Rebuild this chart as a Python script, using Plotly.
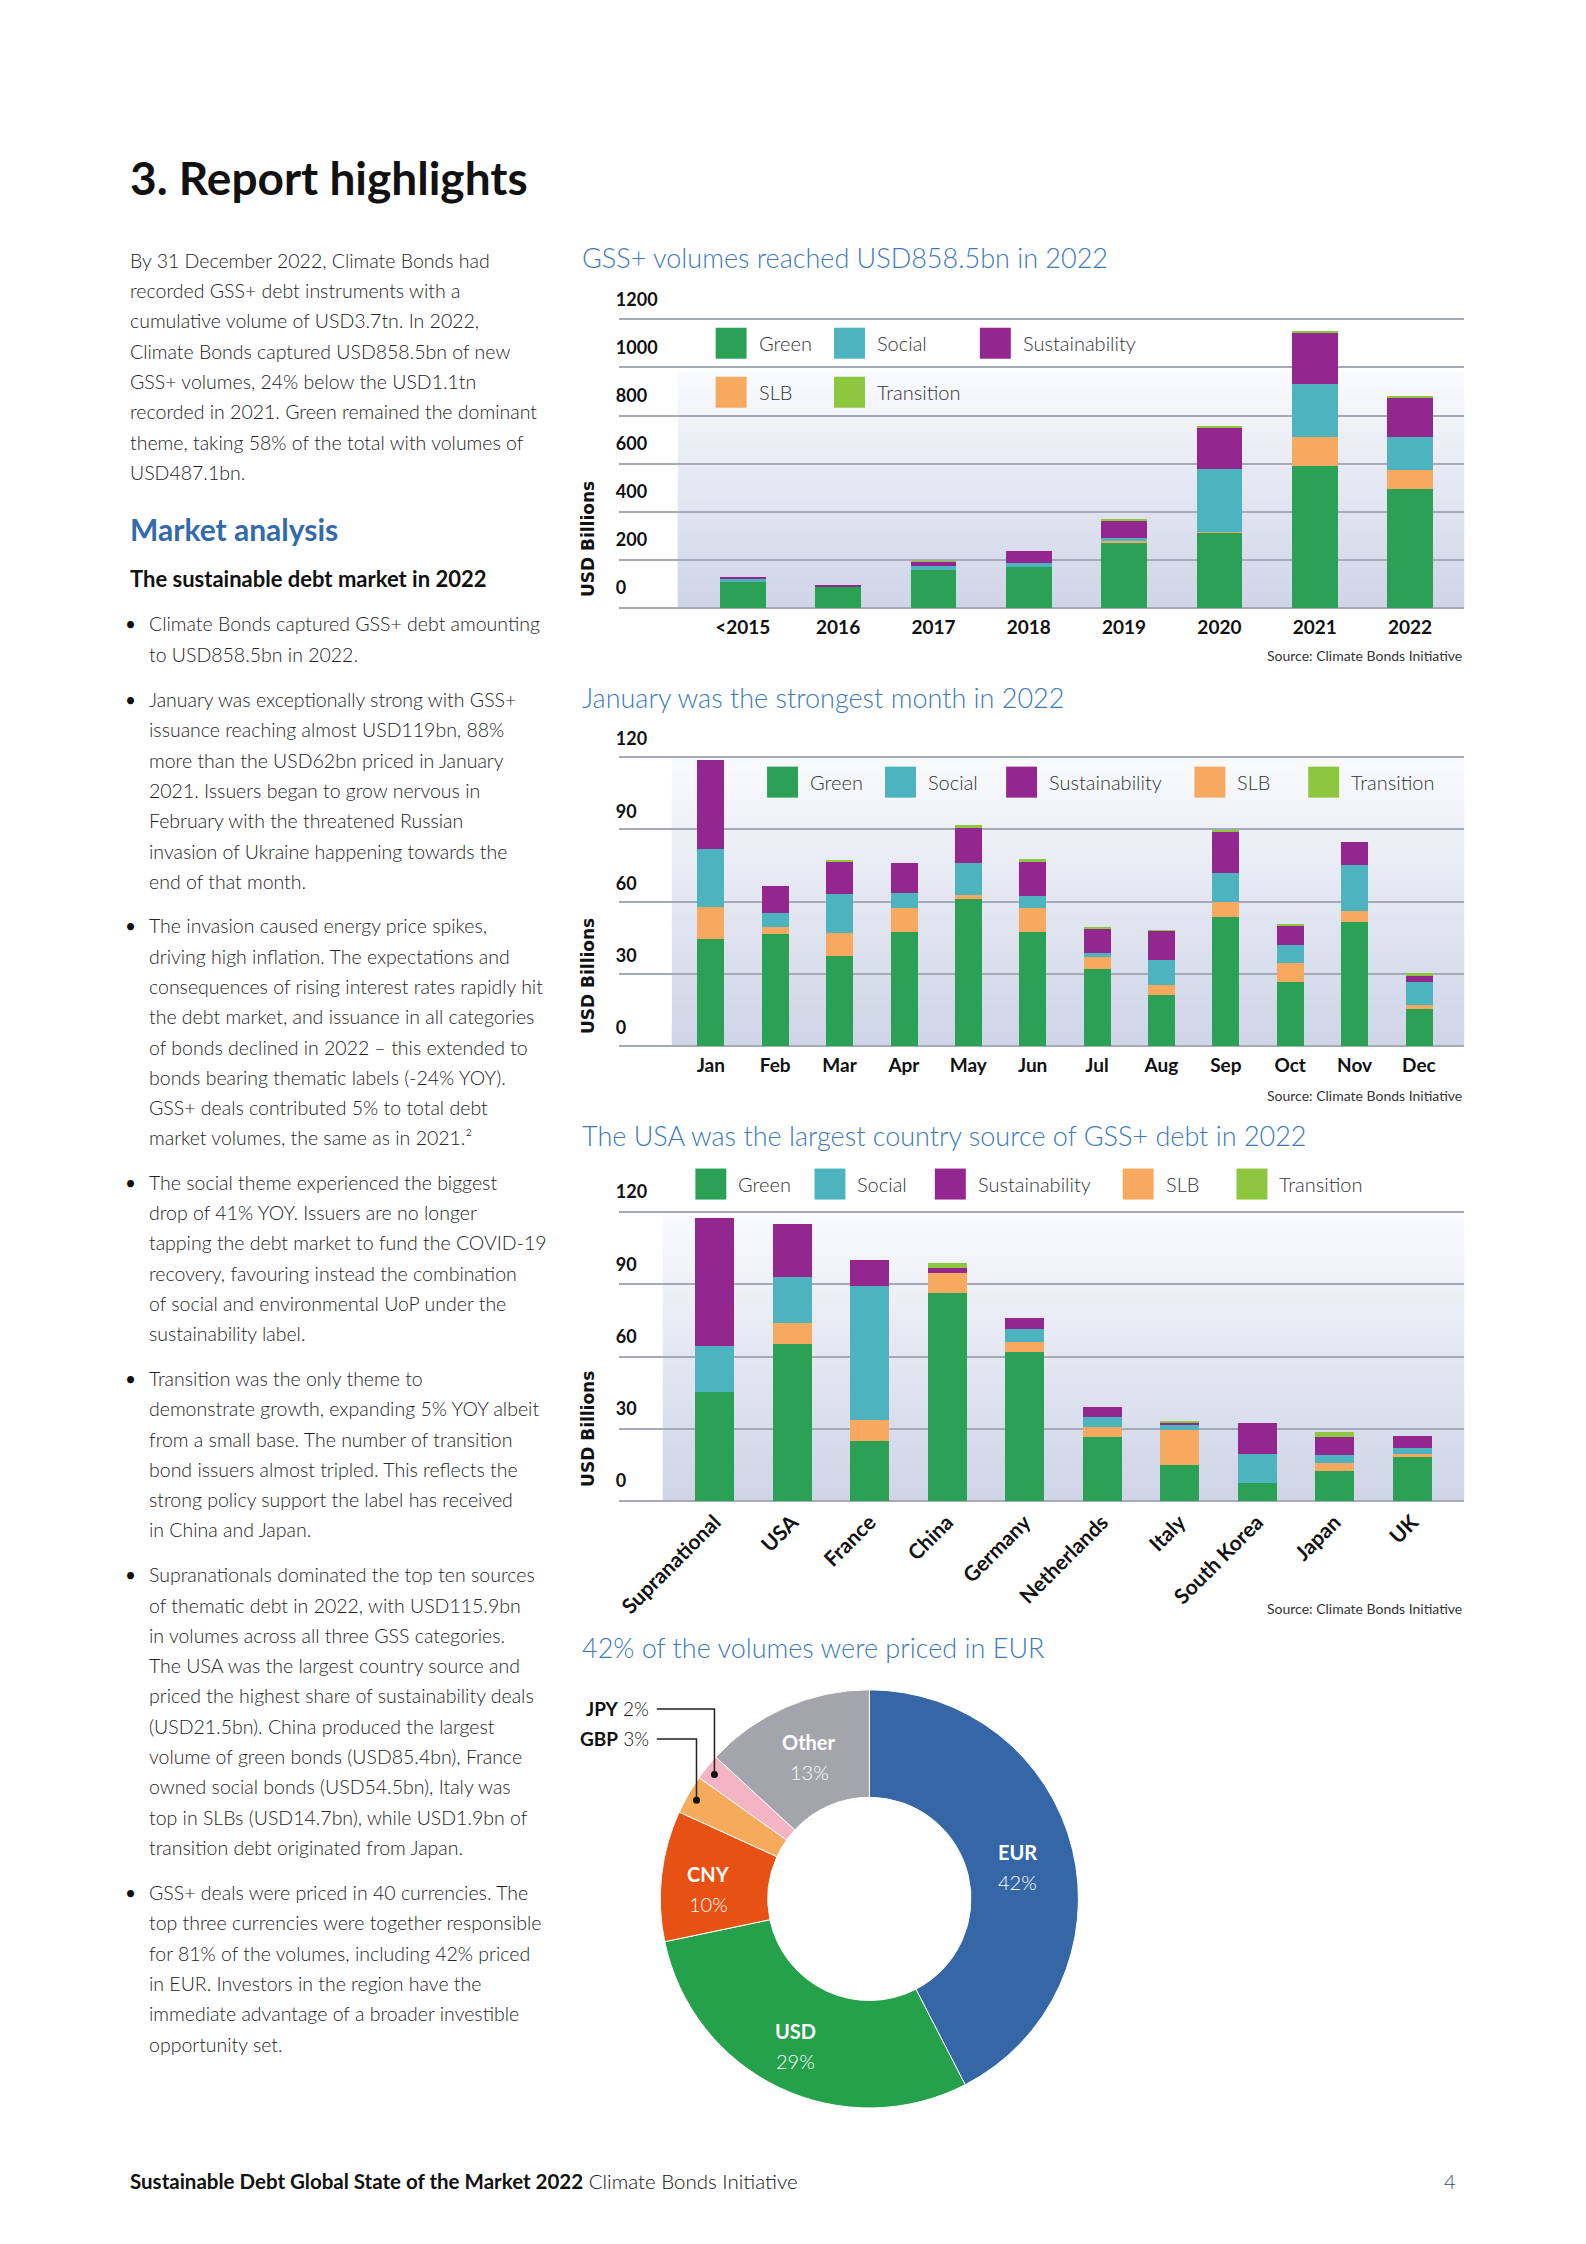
import math
import plotly.graph_objects as go

W, H = 1586, 2244
# measured placement correction of the rendered page
X_OFF, Y_OFF, Y_SCALE = 12, 39.7, 0.9864

# ---------------- data ----------------
stack_order = ["Green", "SLB", "Social", "Sustainability", "Transition"]
legend_order = ["Green", "Social", "Sustainability", "SLB", "Transition"]
theme_colors = {"Green": "#2aa155", "Social": "#4db3bf", "Sustainability": "#93278f",
                "SLB": "#f7a95f", "Transition": "#8dc63f"}

years = ["<2015", "2016", "2017", "2018", "2019", "2020", "2021", "2022"]
years_green = [110, 88, 159, 172, 272, 315, 592, 496]
years_slb = [0, 0, 0, 0, 8, 3, 120, 79]
years_social = [11, 2, 15, 17, 11, 258, 219, 137]
years_sustainability = [10, 7, 18, 48, 72, 175, 213, 161]
years_transition = [0, 0, 3, 0, 7, 7, 8, 8]
years_ticks = [0, 200, 400, 600, 800, 1000, 1200]

months = ["Jan", "Feb", "Mar", "Apr", "May", "Jun", "Jul", "Aug", "Sep", "Oct", "Nov", "Dec"]
months_green = [44.5, 46.5, 37.4, 47.4, 61.1, 47.4, 32.0, 21.2, 53.6, 26.6, 51.5, 15.4]
months_slb = [13.3, 2.9, 9.6, 9.9, 1.6, 9.9, 5.0, 4.1, 6.2, 7.9, 4.6, 1.6]
months_social = [24.1, 5.9, 16.2, 6.3, 13.3, 5.0, 1.6, 10.4, 12.1, 7.5, 19.1, 9.6]
months_sustainability = [36.9, 11.2, 13.3, 12.4, 14.6, 14.2, 10.4, 12.1, 17.0, 7.9, 9.6, 2.9]
months_transition = [0, 0, 0.4, 0, 1.2, 1.2, 0.4, 0.4, 1.0, 0.4, 0, 0.8]
months_ticks = [0, 30, 60, 90, 120]

countries = ["Supranational", "USA", "France", "China", "Germany", "Netherlands",
             "Italy", "South Korea", "Japan", "UK"]
countries_green = [45.3, 65.2, 24.9, 86.4, 61.9, 26.6, 15.0, 7.5, 12.5, 18.3]
countries_slb = [0, 8.7, 8.7, 8.3, 4.1, 4.1, 14.5, 0, 3.3, 1.2]
countries_social = [19.1, 19.1, 55.7, 0, 5.4, 4.2, 2.1, 12.0, 3.3, 2.5]
countries_sustainability = [53.1, 22.0, 10.8, 2.1, 4.6, 4.1, 1.2, 12.9, 7.5, 5.0]
countries_transition = [0, 0, 0, 2.1, 0, 0, 0.4, 0, 2.1, 0]
countries_ticks = [0, 30, 60, 90, 120]

currencies = ["EUR", "USD", "CNY", "GBP", "JPY", "Other"]
currency_shares = [42, 29, 10, 3, 2, 13]
currency_colors = ["#3567a6", "#25a04b", "#e85114", "#f6ab5c", "#f4b4c4", "#a4a4ad"]

# ---------------- text ----------------
intro_lines = [
    "By 31 December 2022, Climate Bonds had",
    "recorded GSS+ debt instruments with a",
    "cumulative volume of USD3.7tn. In 2022,",
    "Climate Bonds captured USD858.5bn of new",
    "GSS+ volumes, 24% below the USD1.1tn",
    "recorded in 2021. Green remained the dominant",
    "theme, taking 58% of the total with volumes of",
    "USD487.1bn.",
]
bullets = [
    ["Climate Bonds captured GSS+ debt amounting",
     "to USD858.5bn in 2022."],
    ["January was exceptionally strong with GSS+",
     "issuance reaching almost USD119bn, 88%",
     "more than the USD62bn priced in January",
     "2021. Issuers began to grow nervous in",
     "February with the threatened Russian",
     "invasion of Ukraine happening towards the",
     "end of that month."],
    ["The invasion caused energy price spikes,",
     "driving high inflation. The expectations and",
     "consequences of rising interest rates rapidly hit",
     "the debt market, and issuance in all categories",
     "of bonds declined in 2022 \u2013 this extended to",
     "bonds bearing thematic labels (-24% YOY).",
     "GSS+ deals contributed 5% to total debt",
     "market volumes, the same as in 2021.\u00b2"],
    ["The social theme experienced the biggest",
     "drop of 41% YOY. Issuers are no longer",
     "tapping the debt market to fund the COVID-19",
     "recovery, favouring instead the combination",
     "of social and environmental UoP under the",
     "sustainability label."],
    ["Transition was the only theme to",
     "demonstrate growth, expanding 5% YOY albeit",
     "from a small base. The number of transition",
     "bond issuers almost tripled. This reflects the",
     "strong policy support the label has received",
     "in China and Japan."],
    ["Supranationals dominated the top ten sources",
     "of thematic debt in 2022, with USD115.9bn",
     "in volumes across all three GSS categories.",
     "The USA was the largest country source and",
     "priced the highest share of sustainability deals",
     "(USD21.5bn). China produced the largest",
     "volume of green bonds (USD85.4bn), France",
     "owned social bonds (USD54.5bn), Italy was",
     "top in SLBs (USD14.7bn), while USD1.9bn of",
     "transition debt originated from Japan."],
    ["GSS+ deals were priced in 40 currencies. The",
     "top three currencies were together responsible",
     "for 81% of the volumes, including 42% priced",
     "in EUR. Investors in the region have the",
     "immediate advantage of a broader investible",
     "opportunity set."],
]

# ---------------- helpers ----------------
FONT = "Lato"
TXT = "#232323"
BLUE_T = "#3c7abc"
GRID = "#a6a9b6"


def fx(p):
    return (p - X_OFF) / W


def fy(p):
    return 1 - ((p - Y_OFF) / Y_SCALE) / H


fig = go.Figure()
shapes = []
annotations = []


def text(x, y, s, size, color=TXT, weight=400, xanchor="left", family=FONT, angle=0):
    annotations.append(dict(x=fx(x), y=fy(y), xref="paper", yref="paper", text=s,
                            showarrow=False, xanchor=xanchor, yanchor="middle", textangle=angle,
                            font=dict(family=family, size=size, color=color, weight=weight)))


def gradient(x0, x1, ytop, ybot, n=40):
    c_bot = (206, 212, 231)
    c_top = (249, 250, 253)
    h = (ybot - ytop) / n
    for i in range(n):
        t = (i + 0.5) / n  # 0 at bottom
        c = tuple(int(round(c_bot[k] + (c_top[k] - c_bot[k]) * t)) for k in range(3))
        yb = ybot - i * h
        shapes.append(dict(type="rect", xref="paper", yref="paper", layer="below",
                           x0=fx(x0), x1=fx(x1), y0=fy(yb + 0.5), y1=fy(yb - h - 0.5),
                           fillcolor="rgb(%d,%d,%d)" % c, line=dict(width=0)))


def legend_item(name, x0, yc, size=31):
    shapes.append(dict(type="rect", xref="paper", yref="paper", x0=fx(x0), x1=fx(x0 + size),
                       y0=fy(yc + size / 2), y1=fy(yc - size / 2),
                       fillcolor=theme_colors[name], line=dict(width=0)))
    text(x0 + size + 10, yc, name, 20, color="#333333", weight=300)


def add_chart(n, cats, data, bar_width, first_center, pitch, y_top, y_bot, ymax, ticks,
              label_shift, tickangle=0, x_standoff=6, xfont=19):
    suffix = "" if n == 1 else str(n)
    for name in stack_order:
        fig.add_trace(go.Bar(x=cats, y=data[name], name=name, width=bar_width,
                             marker=dict(color=theme_colors[name], line=dict(width=0)),
                             xaxis="x" + suffix, yaxis="y" + suffix, showlegend=False,
                             hoverinfo="skip"))
    x0, x1 = 621, 1468
    pad = ymax * 0.004
    top_px = y_top - (y_bot - y_top) * 0.004
    xa = dict(domain=[fx(x0), fx(x1)], type="category",
              range=[-(first_center - x0) / pitch, (x1 - first_center) / pitch],
              showgrid=False, zeroline=False, showline=False, ticks="", tickangle=tickangle,
              ticklabelstandoff=x_standoff, anchor="y" + suffix, fixedrange=True,
              tickfont=dict(family=FONT, size=xfont, color="#111111", weight=700))
    ya = dict(domain=[fy(y_bot), fy(top_px)], range=[0, ymax + pad], tickvals=ticks,
              showgrid=True, gridcolor=GRID, gridwidth=1.5, zeroline=True, zerolinecolor=GRID,
              zerolinewidth=1.5, showline=False, ticks="", ticklabelposition="inside",
              ticklabelshift=-label_shift, ticklabeloverflow="allow", ticklabelstandoff=-6,
              anchor="x" + suffix, fixedrange=True,
              tickfont=dict(family=FONT, size=18, color="#111111", weight=700))
    fig.update_layout(**{"xaxis" + suffix: xa, "yaxis" + suffix: ya})


# ---------------- chart 1 ----------------
text(582, 258, "GSS+ volumes reached USD858.5bn in 2022", 27, color=BLUE_T, weight=300)
gradient(680, 1468, 373, 609)
add_chart(1, years, {"Green": years_green, "SLB": years_slb, "Social": years_social,
                     "Sustainability": years_sustainability, "Transition": years_transition},
          0.48, 745.2, 95.5, 320, 609, 1200, years_ticks, 20)
for name, x0, yc in zip(legend_order, [718, 836.6, 982.7, 718, 836.6], [344, 344, 344, 393, 393]):
    legend_item(name, x0, yc)
text(590, 540, "USD Billions", 17, color="#111111", weight=700, xanchor="center",
     family="DejaVu Sans", angle=-90)
text(1468, 656, "Source: Climate Bonds Initiative", 14, color="#333333", xanchor="right")

# ---------------- chart 2 ----------------
text(582, 698, "January was the strongest month in 2022", 27, color=BLUE_T, weight=300)
gradient(674, 1468, 758, 1047)
add_chart(2, months, {"Green": months_green, "SLB": months_slb, "Social": months_social,
                      "Sustainability": months_sustainability, "Transition": months_transition},
          0.42, 713.1, 64.5, 758, 1047, 120, months_ticks, 18)
for name, x0 in zip(legend_order, [769.5, 887.7, 1009, 1197.7, 1311.7]):
    legend_item(name, x0, 783)
text(590, 977, "USD Billions", 17, color="#111111", weight=700, xanchor="center",
     family="DejaVu Sans", angle=-90)
text(1468, 1096, "Source: Climate Bonds Initiative", 14, color="#333333", xanchor="right")

# ---------------- chart 3 ----------------
text(582, 1136, "The USA was the largest country source of GSS+ debt in 2022", 27,
     color=BLUE_T, weight=300)
gradient(665, 1468, 1213, 1502)
add_chart(3, countries, {"Green": countries_green, "SLB": countries_slb, "Social": countries_social,
                         "Sustainability": countries_sustainability,
                         "Transition": countries_transition},
          0.50, 717, 77.65, 1213, 1502, 120, countries_ticks, 20, tickangle=-45, x_standoff=4,
          xfont=21)
for name, x0 in zip(legend_order, [697.7, 817, 937.6, 1125.8, 1239.8]):
    legend_item(name, x0, 1185)
text(590, 1430, "USD Billions", 17, color="#111111", weight=700, xanchor="center",
     family="DejaVu Sans", angle=-90)
text(1468, 1610, "Source: Climate Bonds Initiative", 14, color="#333333", xanchor="right")

# ---------------- donut ----------------
text(582, 1649, "42% of the volumes were priced in EUR", 27, color=BLUE_T, weight=300)
cx, cy, R = 872, 1900, 212
fig.add_trace(go.Pie(labels=currencies, values=currency_shares, hole=0.486, sort=False,
                     direction="clockwise", rotation=0, textinfo="none", showlegend=False,
                     hoverinfo="skip",
                     marker=dict(colors=currency_colors, line=dict(color="white", width=1)),
                     domain=dict(x=[fx(cx - R), fx(cx + R)],
                                 y=[fy(cy + R * Y_SCALE), fy(cy - R * Y_SCALE)])))
slice_labels = {"EUR": (1020, 1853), "USD": (798, 2032), "CNY": (711, 1875), "Other": (812, 1743)}
for lab, share in zip(currencies, currency_shares):
    if lab in slice_labels:
        lx, ly = slice_labels[lab]
        text(lx, ly, lab, 20, color="white", weight=700, xanchor="center")
        text(lx, ly + 30, "%d%%" % share, 20, color="white", weight=300, xanchor="center")

# callouts for the two small slices, anchored at each slice's mid angle
total = sum(currency_shares)
cum = 0
mids = {}
for lab, share in zip(currencies, currency_shares):
    mids[lab] = (cum + share / 2) / total * 2 * math.pi
    cum += share
callout_y = {"JPY": 1710, "GBP": 1740}
for lab in ["JPY", "GBP"]:
    a = mids[lab]
    dx_, dy_ = cx + 200 * math.sin(a), cy - 200 * Y_SCALE * math.cos(a)
    ly = callout_y[lab]
    shapes.append(dict(type="path", xref="paper", yref="paper",
                       path="M %f,%f L %f,%f L %f,%f" % (fx(659), fy(ly), fx(dx_), fy(ly),
                                                         fx(dx_), fy(dy_)),
                       line=dict(color="#222222", width=1.5)))
    shapes.append(dict(type="circle", xref="paper", yref="paper",
                       x0=fx(dx_ - 3.5), x1=fx(dx_ + 3.5), y0=fy(dy_ + 3.5), y1=fy(dy_ - 3.5),
                       fillcolor="#111111", line=dict(width=0)))
    share = currency_shares[currencies.index(lab)]
    text(653, ly, "<b>%s</b> %d%%" % (lab, share), 19, color="#111111", weight=300,
         xanchor="right")

# ---------------- left column ----------------
text(129, 178, "3. Report highlights", 46, color="#111111", weight=700)
PITCH = 30.3
BODY = 19.5
for i, line in enumerate(intro_lines):
    text(129, 261 + i * PITCH, line, BODY, weight=300)
text(129, 530, "Market analysis", 30, color="#336aab", weight=700)
text(129, 579, "The sustainable debt market in 2022", 22, color="#111111", weight=700)
bullet_starts = [624.6, 700.5, 926.8, 1183.2, 1379.5, 1575.8, 1893.8]
for start, lines in zip(bullet_starts, bullets):
    text(132, start, "\u2022", 19, color="#111111", xanchor="center")
    for i, line in enumerate(lines):
        text(148, start + i * PITCH, line, BODY, weight=300)

# footer
text(129, 2182, "<b>Sustainable Debt Global State of the Market 2022</b> Climate Bonds Initiative",
     20.5, color="#111111", weight=300)
text(1462, 2182, "4", 20, color="#2f4f7a", weight=300, xanchor="right")

fig.update_layout(width=W, height=H, margin=dict(l=0, r=0, t=0, b=0),
                  paper_bgcolor="white", plot_bgcolor="rgba(0,0,0,0)",
                  barmode="stack", bargap=0, shapes=shapes, annotations=annotations,
                  font=dict(family=FONT))

fig.write_html("out.html")
